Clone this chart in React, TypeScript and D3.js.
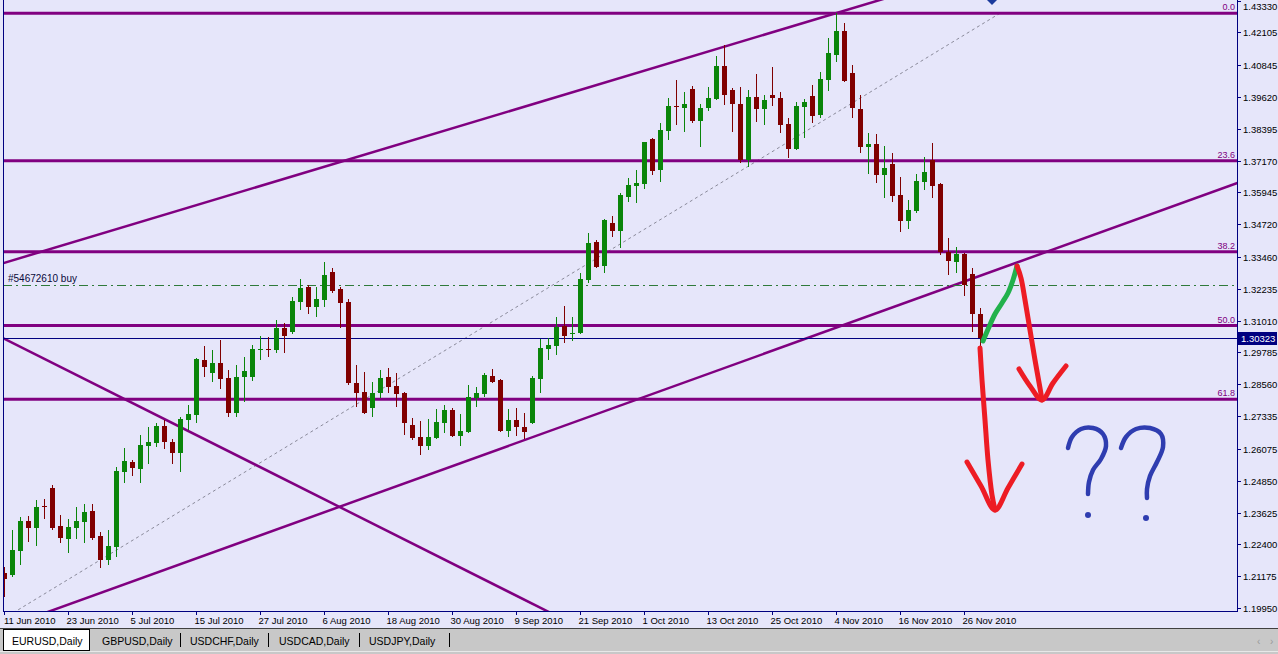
import React from "react";
import * as d3 from "d3";

const W = 1278;
const H = 654;

// ---- data (EURUSD daily, bar index 0 = 11 Jun 2010) ----
const opens = [
  1.2129, 1.2121, 1.2214, 1.2329, 1.2302, 1.2387, 1.2456, 1.2310, 1.2260, 1.2302,
  1.2325, 1.2368, 1.2272, 1.2179, 1.2229, 1.2518, 1.2556, 1.2529, 1.2618, 1.2629,
  1.2695, 1.2633, 1.2591, 1.2718, 1.2737, 1.2949, 1.2899, 1.2937, 1.2880, 1.2745,
  1.2884, 1.2884, 1.2988, 1.2991, 1.2988, 1.3072, 1.3057, 1.3172, 1.3230, 1.3153,
  1.3180, 1.3288, 1.3222, 1.3172, 1.2860, 1.2826, 1.2764, 1.2822, 1.2884, 1.2849,
  1.2822, 1.2699, 1.2653, 1.2618, 1.2649, 1.2706, 1.2757, 1.2657, 1.2672, 1.2803,
  1.2818, 1.2888, 1.2872, 1.2676, 1.2718, 1.2691, 1.2706, 1.2876, 1.2991, 1.3003,
  1.3080, 1.3050, 1.3053, 1.3257, 1.3403, 1.3311, 1.3477, 1.3446, 1.3577, 1.3619,
  1.3627, 1.3800, 1.3681, 1.3831, 1.3927, 1.3919, 1.3992, 1.3869, 1.3919, 1.3954,
  1.4081, 1.3989, 1.3935, 1.3719, 1.3962, 1.3915, 1.3969, 1.3958, 1.3858, 1.3761,
  1.3923, 1.3965, 1.3892, 1.4027, 1.4123, 1.4216, 1.4054, 1.3915, 1.3769, 1.3781,
  1.3661, 1.3704, 1.3584, 1.3484, 1.3523, 1.3634, 1.3719, 1.3627, 1.3365, 1.3326,
  1.3357, 1.3280, 1.3126,
];
const highs = [
  1.2152, 1.2295, 1.2345, 1.2349, 1.2410, 1.2414, 1.2468, 1.2352, 1.2337, 1.2383,
  1.2395, 1.2395, 1.2287, 1.2295, 1.2537, 1.2610, 1.2564, 1.2660, 1.2691, 1.2706,
  1.2718, 1.2645, 1.2730, 1.2776, 1.2957, 1.3003, 1.2988, 1.3026, 1.2911, 1.2930,
  1.2960, 1.3007, 1.3041, 1.3038, 1.3103, 1.3091, 1.3192, 1.3261, 1.3238, 1.3230,
  1.3326, 1.3303, 1.3230, 1.3184, 1.2930, 1.2903, 1.2864, 1.2911, 1.2918, 1.2899,
  1.2826, 1.2726, 1.2714, 1.2722, 1.2760, 1.2776, 1.2764, 1.2741, 1.2853, 1.2845,
  1.2899, 1.2914, 1.2876, 1.2760, 1.2764, 1.2745, 1.2888, 1.3030, 1.3034, 1.3115,
  1.3157, 1.3115, 1.3284, 1.3438, 1.3411, 1.3492, 1.3503, 1.3592, 1.3650, 1.3681,
  1.3790, 1.3804, 1.3861, 1.3958, 1.4027, 1.3981, 1.4004, 1.3935, 1.4000, 1.4119,
  1.4162, 1.3996, 1.4000, 1.3989, 1.4050, 1.3969, 1.4077, 1.3981, 1.3881, 1.3942,
  1.3954, 1.4008, 1.4058, 1.4189, 1.4284, 1.4246, 1.4085, 1.3969, 1.3823, 1.3819,
  1.3773, 1.3746, 1.3654, 1.3565, 1.3665, 1.3731, 1.3784, 1.3631, 1.3419, 1.3384,
  1.3361, 1.3303, 1.3149,
];
const lows = [
  1.2037, 1.2113, 1.2160, 1.2248, 1.2233, 1.2337, 1.2295, 1.2244, 1.2206, 1.2260,
  1.2244, 1.2256, 1.2148, 1.2160, 1.2191, 1.2475, 1.2502, 1.2475, 1.2549, 1.2614,
  1.2606, 1.2549, 1.2518, 1.2680, 1.2706, 1.2884, 1.2864, 1.2837, 1.2730, 1.2730,
  1.2787, 1.2868, 1.2949, 1.2960, 1.2976, 1.2976, 1.3049, 1.3142, 1.3126, 1.3115,
  1.3153, 1.3207, 1.3072, 1.2853, 1.2768, 1.2743, 1.2730, 1.2803, 1.2822, 1.2768,
  1.2660, 1.2641, 1.2583, 1.2603, 1.2645, 1.2668, 1.2653, 1.2618, 1.2668, 1.2768,
  1.2807, 1.2860, 1.2672, 1.2653, 1.2657, 1.2645, 1.2703, 1.2822, 1.2949, 1.2968,
  1.3014, 1.3022, 1.3050, 1.3245, 1.3303, 1.3284, 1.3423, 1.3380, 1.3557, 1.3553,
  1.3611, 1.3661, 1.3634, 1.3796, 1.3854, 1.3827, 1.3861, 1.3769, 1.3908, 1.3950,
  1.3931, 1.3827, 1.3708, 1.3692, 1.3865, 1.3854, 1.3927, 1.3823, 1.3727, 1.3758,
  1.3804, 1.3861, 1.3881, 1.3985, 1.4096, 1.4019, 1.3881, 1.3746, 1.3665, 1.3631,
  1.3573, 1.3557, 1.3442, 1.3453, 1.3515, 1.3604, 1.3573, 1.3353, 1.3276, 1.3284,
  1.3196, 1.3057, 1.2988,
];
const closes = [
  1.2106, 1.2218, 1.2329, 1.2302, 1.2383, 1.2383, 1.2302, 1.2264, 1.2306, 1.2329,
  1.2364, 1.2264, 1.2179, 1.2233, 1.2522, 1.2560, 1.2533, 1.2622, 1.2633, 1.2695,
  1.2633, 1.2591, 1.2722, 1.2741, 1.2953, 1.2922, 1.2937, 1.2876, 1.2745, 1.2883,
  1.2907, 1.2991, 1.2991, 1.2988, 1.3072, 1.3041, 1.3176, 1.3226, 1.3153, 1.3184,
  1.3276, 1.3215, 1.3168, 1.2860, 1.2822, 1.2745, 1.2822, 1.2880, 1.2845, 1.2818,
  1.2706, 1.2649, 1.2618, 1.2653, 1.2710, 1.2757, 1.2657, 1.2676, 1.2807, 1.2822,
  1.2891, 1.2864, 1.2676, 1.2718, 1.2691, 1.2672, 1.2880, 1.2995, 1.3007, 1.3076,
  1.3041, 1.3053, 1.3261, 1.3399, 1.3307, 1.3488, 1.3446, 1.3584, 1.3623, 1.3631,
  1.3788, 1.3677, 1.3835, 1.3927, 1.3923, 1.3935, 1.3869, 1.3919, 1.3958, 1.4081,
  1.3969, 1.3935, 1.3719, 1.3962, 1.3915, 1.3950, 1.3958, 1.3854, 1.3761, 1.3927,
  1.3942, 1.3888, 1.4031, 1.4131, 1.4216, 1.4023, 1.3919, 1.3769, 1.3781, 1.3661,
  1.3688, 1.3580, 1.3484, 1.3527, 1.3638, 1.3673, 1.3619, 1.3365, 1.3330, 1.3357,
  1.3238, 1.3126, 1.30323,
];

const dateLabels = [
  "11 Jun 2010", "23 Jun 2010", "5 Jul 2010", "15 Jul 2010", "27 Jul 2010",
  "6 Aug 2010", "18 Aug 2010", "30 Aug 2010", "9 Sep 2010", "21 Sep 2010",
  "1 Oct 2010", "13 Oct 2010", "25 Oct 2010", "4 Nov 2010", "16 Nov 2010", "26 Nov 2010",
];
const dateIndex = [0, 8, 16, 24, 32, 40, 48, 56, 64, 72, 80, 88, 96, 104, 112, 120];

const priceTicks = [
  1.4333, 1.42105, 1.40845, 1.3962, 1.38395, 1.3717, 1.35945, 1.3472, 1.3346, 1.32235,
  1.3101, 1.29785, 1.2856, 1.27335, 1.26075, 1.2485, 1.23625, 1.224, 1.21175, 1.1995,
];

// Fibonacci retracement anchors (bar index, price)
const fibLow = { k: -4, p: 1.188 };
const fibHigh = { k: 124.5, p: 1.4284 };
const fibLevels = [0, 0.236, 0.382, 0.5, 0.618];
const fibLabels = ["0.0", "23.6", "38.2", "50.0", "61.8"];

// Trend lines (bar index, price) pairs
const trendLines = [
  { k1: -0.125, p1: 1.3322, k2: 109.5, p2: 1.4335 },
  { k1: 6.125, p1: 1.1987, k2: 154.125, p2: 1.363 },
  { k1: -0.125, p1: 1.3034, k2: 67.625, p2: 1.1987 },
];

const currentPrice = 1.30323;
const buyPrice = 1.3237;
const buyLabel = "#54672610 buy";

const tabs = ["EURUSD,Daily", "GBPUSD,Daily", "USDCHF,Daily", "USDCAD,Daily", "USDJPY,Daily"];

// hand drawn annotations (screen pixels)
const greenStroke: [number, number][] = [
  [983, 341], [989, 327], [995, 314], [1002, 303], [1008, 293], [1013, 280], [1017, 266],
];
const redStroke1: [number, number][] = [
  [1017, 266], [1021, 278], [1025, 300], [1030, 330], [1035, 360], [1040, 388], [1042, 400],
];
const redHead1: [number, number][] = [[1019, 369], [1030, 386], [1042, 400], [1053, 383], [1066, 366]];
const redStroke2: [number, number][] = [
  [980, 348], [982, 380], [985, 420], [988, 460], [992, 495], [995, 510],
];
const redHead2: [number, number][] = [[967, 462], [981, 486], [995, 510], [1008, 488], [1022, 464]];
const blueQ1: [number, number][] = [
  [1068, 448], [1072, 437], [1081, 429], [1093, 428], [1103, 434], [1106, 446], [1101, 459],
  [1093, 470], [1089, 482], [1088, 494],
];
const blueQ2: [number, number][] = [
  [1121, 448], [1126, 437], [1136, 429], [1150, 428], [1161, 434], [1163, 447], [1157, 462],
  [1150, 476], [1147, 489], [1147, 498],
];
const blueDots: [number, number][] = [[1088, 515], [1146, 518]];

// ---- layout ----
const plotL = 3;
const plotR = 1237;
const plotT = 0;
const plotB = 611;

const PURPLE = "#800080";
const NAVY = "#000080";
const BG = "#E6E6FA";
const BULL = "#0A850A";
const BEAR = "#800000";
const FONT = "'Liberation Sans', Arial, sans-serif";

export default function App() {
  const x = d3.scaleLinear().domain([0, 122]).range([4, 980]);
  const y = d3.scaleLinear().domain([1.1995, 1.4333]).range([608, 0.5]);

  const n = closes.length;
  const bars = d3.range(n).map((i) => ({
    i,
    o: opens[i],
    h: highs[i],
    l: lows[i],
    c: closes[i],
  }));

  const fibY = fibLevels.map((f) => y(fibHigh.p - f * (fibHigh.p - fibLow.p)));

  const extend = (t: { k1: number; p1: number; k2: number; p2: number }) => {
    const x1 = x(t.k1), y1 = y(t.p1), x2 = x(t.k2), y2 = y(t.p2);
    const m = (y2 - y1) / (x2 - x1);
    return { x1: plotL - 10, y1: y1 + m * (plotL - 10 - x1), x2: plotR + 10, y2: y1 + m * (plotR + 10 - x1) };
  };

  const hand = d3.line<[number, number]>().curve(d3.curveCatmullRom.alpha(0.5));

  const tabX = [3, 93, 181, 270, 360];
  const sepX = [180, 268, 359, 449];

  return (
    <div style={{ position: "absolute", left: 0, top: 0, width: W, height: H, overflow: "hidden" }}>
      <svg width={W} height={H} style={{ display: "block", fontFamily: FONT }}>
        <defs>
          <clipPath id="plot">
            <rect x={plotL} y={plotT} width={plotR - plotL} height={plotB - plotT} />
          </clipPath>
        </defs>
        <rect x={0} y={0} width={W} height={H} fill={BG} />

        <g clipPath="url(#plot)">
          {/* fib diagonal */}
          <line
            x1={x(fibLow.k)}
            y1={y(fibLow.p)}
            x2={x(fibHigh.k)}
            y2={y(fibHigh.p)}
            stroke="#8A8A9A"
            strokeWidth={1}
            strokeDasharray="3,3"
          />
          {/* fib levels */}
          {fibY.map((fy, j) => (
            <line key={"f" + j} x1={plotL} x2={plotR} y1={fy} y2={fy} stroke={PURPLE} strokeWidth={3} />
          ))}
          {/* trend lines */}
          {trendLines.map((t, j) => {
            const e = extend(t);
            return <line key={"t" + j} {...e} stroke={PURPLE} strokeWidth={2.5} />;
          })}
          {/* buy order line */}
          <line
            x1={plotL}
            x2={plotR}
            y1={Math.round(y(buyPrice)) + 0.5}
            y2={Math.round(y(buyPrice)) + 0.5}
            stroke="#2F7A3A"
            strokeWidth={1}
            strokeDasharray="9,4,2,4"
          />
          {/* current price line */}
          <line
            x1={plotL}
            x2={plotR}
            y1={Math.round(y(currentPrice)) + 0.5}
            y2={Math.round(y(currentPrice)) + 0.5}
            stroke={NAVY}
            strokeWidth={1}
          />
          {/* candles */}
          <g shapeRendering="crispEdges">
            {bars.map((b) => {
              const cx = Math.round(x(b.i));
              const up = b.c >= b.o;
              const col = up ? BULL : BEAR;
              const yo = y(b.o), yc = y(b.c);
              const top = Math.round(Math.min(yo, yc));
              const bh = Math.max(1, Math.round(Math.abs(yo - yc)));
              return (
                <g key={b.i}>
                  <rect x={cx} y={Math.round(y(b.h))} width={1} height={Math.max(1, Math.round(y(b.l) - y(b.h)))} fill={col} />
                  <rect x={cx - 2} y={top} width={5} height={bh} fill={col} />
                </g>
              );
            })}
          </g>
          {/* order arrow marker */}
          <path d={`M${x(122.5) + 3},0 L${x(122.5) + 13},0 L${x(122.5) + 8},5 Z`} fill="#1B3A9C" />
        </g>

        {/* frame */}
        <line x1={plotL + 0.5} x2={plotL + 0.5} y1={0} y2={plotB} stroke={NAVY} strokeWidth={1} />
        <line x1={plotR + 0.5} x2={plotR + 0.5} y1={0} y2={plotB + 1} stroke={NAVY} strokeWidth={1} />
        <line x1={plotL} x2={plotR + 1} y1={plotB + 0.5} y2={plotB + 0.5} stroke={NAVY} strokeWidth={1} />

        {/* fib labels */}
        {fibY.map((fy, j) => (
          <text key={"fl" + j} x={plotR - 2} y={fy - 3} textAnchor="end" fontSize={9} fill={PURPLE}>
            {fibLabels[j]}
          </text>
        ))}

        {/* buy label */}
        <text x={8} y={y(buyPrice) - 3} fontSize={10} fill="#0A0A3A">
          {buyLabel}
        </text>

        {/* price axis */}
        {priceTicks.map((p, j) => {
          const ty = Math.round(y(p)) + 0.5;
          return (
            <g key={"pt" + j}>
              <line x1={plotR} x2={plotR + 4} y1={ty} y2={ty} stroke={NAVY} />
              <text x={plotR + 6} y={Math.max(ty, 7)} dy="0.35em" fontSize={9.5} fill="#000">
                {p.toFixed(5)}
              </text>
            </g>
          );
        })}
        <rect x={plotR + 1} y={Math.round(y(currentPrice)) - 6} width={W - plotR - 2} height={13} fill={NAVY} />
        <text x={plotR + 4} y={Math.round(y(currentPrice)) + 0.5} dy="0.35em" fontSize={9.5} fill="#fff">
          {currentPrice.toFixed(5)}
        </text>

        {/* time axis */}
        {dateIndex.map((k, j) => {
          const tx = Math.round(x(k)) + 0.5;
          return (
            <g key={"dt" + j}>
              <line x1={tx} x2={tx} y1={plotB} y2={plotB + 4} stroke={NAVY} />
              <text x={Math.max(tx - 2, 4)} y={624} fontSize={9.5} fill="#000">
                {dateLabels[j]}
              </text>
            </g>
          );
        })}

        {/* hand drawn annotations */}
        <g fill="none" strokeLinecap="round" strokeLinejoin="round">
          <path d={hand(greenStroke) || ""} stroke="#22B14C" strokeWidth={5} />
          <path d={hand(redStroke1) || ""} stroke="#ED1C24" strokeWidth={5} />
          <path d={hand(redHead1) || ""} stroke="#ED1C24" strokeWidth={5} />
          <path d={hand(redStroke2) || ""} stroke="#ED1C24" strokeWidth={5} />
          <path d={hand(redHead2) || ""} stroke="#ED1C24" strokeWidth={5} />
          <path d={hand(blueQ1) || ""} stroke="#2F3DB0" strokeWidth={4.5} />
          <path d={hand(blueQ2) || ""} stroke="#2F3DB0" strokeWidth={4.5} />
        </g>
        {blueDots.map((d, j) => (
          <circle key={"bd" + j} cx={d[0]} cy={d[1]} r={3} fill="#2F3DB0" />
        ))}

        {/* tab bar */}
        <rect x={0} y={628} width={W} height={H - 628} fill="#C8C8C8" />
        <rect x={0} y={628} width={W} height={1} fill="#404040" />
        <rect x={0} y={651} width={W} height={1} fill="#E8E8E8" />
        <rect x={3.5} y={629.5} width={86} height={21} fill="#FFFFFF" stroke="#000" strokeWidth={1} />
        {tabs.map((t, j) => (
          <text key={"tb" + j} x={tabX[j] + 9} y={645} fontSize={10.5} fill="#000">
            {t}
          </text>
        ))}
        {sepX.map((sx, j) => (
          <rect key={"sp" + j} x={sx} y={633} width={1} height={14} fill="#000" />
        ))}
        <text x={1257} y={645} fontSize={10} fill="#999">‹</text>
        <text x={1270} y={645} fontSize={10} fill="#999">›</text>
      </svg>
    </div>
  );
}
